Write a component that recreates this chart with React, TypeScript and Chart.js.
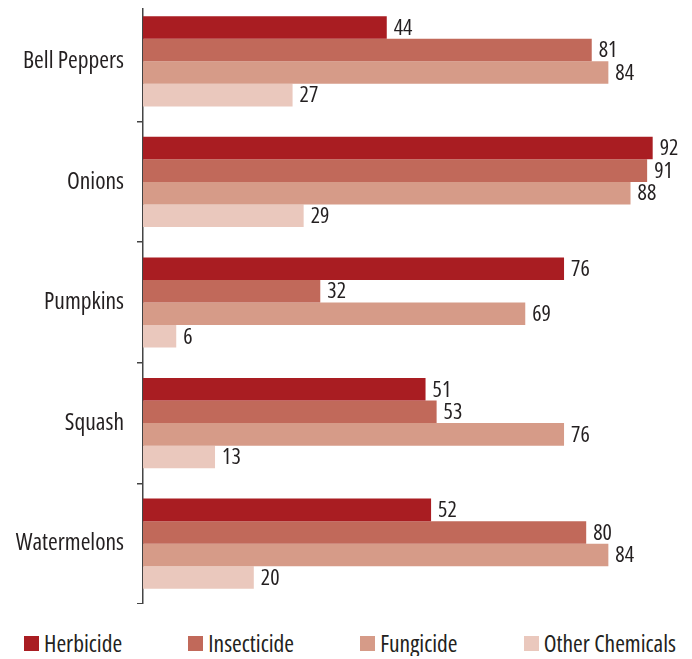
import React, { useEffect, useRef } from "react";
import { Chart, registerables } from "chart.js";

Chart.register(...registerables);

const categories = ["Bell Peppers", "Onions", "Pumpkins", "Squash", "Watermelons"];
const herbicide = [44, 92, 76, 51, 52];
const insecticide = [81, 91, 32, 53, 80];
const fungicide = [84, 88, 69, 76, 84];
const otherChemicals = [27, 29, 6, 13, 20];
const seriesNames = ["Herbicide", "Insecticide", "Fungicide", "Other Chemicals"];
const seriesColors = ["#A91D22", "#C1695A", "#D69B88", "#EAC8BD"];

const FAMILY = "'Open Sans', 'Roboto Condensed', sans-serif";
const CANVAS_FONT = `condensed 22px ${FAMILY}`;
const TEXT = "#231F20";

const valueLabels = {
  id: "valueLabels",
  afterDatasetsDraw(chart: any) {
    const ctx = chart.ctx;
    ctx.save();
    ctx.font = CANVAS_FONT;
    try {
      (ctx as any).fontStretch = "condensed";
    } catch (e) {}
    ctx.fillStyle = TEXT;
    ctx.textAlign = "left";
    ctx.textBaseline = "middle";
    chart.data.datasets.forEach((ds: any, di: number) => {
      const meta = chart.getDatasetMeta(di);
      meta.data.forEach((bar: any, i: number) => {
        ctx.fillText(String(ds.data[i]), bar.x + 7, bar.y + 1);
      });
    });
    ctx.restore();
  },
};

export default function App() {
  const ref = useRef<HTMLCanvasElement>(null);
  useEffect(() => {
    if (!ref.current) return;
    const data = [herbicide, insecticide, fungicide, otherChemicals];
    const chart = new Chart(ref.current, {
      type: "bar",
      data: {
        labels: categories,
        datasets: seriesNames.map((name, i) => ({
          label: name,
          data: data[i],
          backgroundColor: seriesColors[i],
          borderWidth: 0,
          categoryPercentage: 0.748,
          barPercentage: 1,
        })),
      },
      options: {
        indexAxis: "y",
        animation: false,
        responsive: false,
        maintainAspectRatio: false,
        layout: { padding: 0 },
        plugins: {
          legend: { display: false },
          tooltip: { enabled: false },
        },
        scales: {
          x: { display: false, min: 0, max: 100 },
          y: {
            afterFit: (scale: any) => {
              scale.width = 135;
              scale.paddingTop = 0;
              scale.paddingBottom = 0;
            },
            border: { display: true, color: "#444", width: 1.5 },
            grid: {
              display: true,
              drawOnChartArea: false,
              drawTicks: true,
              tickLength: 6,
              color: "#444",
              lineWidth: 1.5,
              offset: true,
            },
            ticks: {
              color: TEXT,
              padding: 13,
              font: { family: FAMILY, size: 23.5, weight: "condensed" as any },
            },
          },
        },
      },
      plugins: [valueLabels],
    });
    return () => chart.destroy();
  }, []);

  return (
    <div style={{ width: 684, marginTop: -7, overflow: "hidden" }}>
      <div style={{ width: 689, height: 603 }}>
        <canvas ref={ref} width={689} height={603} style={{ width: 689, height: 603, display: "block" }} />
      </div>
      <div
        style={{
          display: "flex",
          justifyContent: "space-between",
          alignItems: "center",
          marginTop: 27,
          marginLeft: 16,
          width: 652,
          fontFamily: FAMILY,
          fontStretch: "condensed",
          fontSize: 23.5,
          color: TEXT,
          lineHeight: "25px",
          whiteSpace: "nowrap",
        }}
      >
        {seriesNames.map((name, i) => (
          <div key={name} style={{ display: "flex", alignItems: "center" }}>
            <span style={{ width: 15, height: 15, background: seriesColors[i], display: "inline-block", marginRight: 5 }} />
            <span>{name}</span>
          </div>
        ))}
      </div>
    </div>
  );
}
